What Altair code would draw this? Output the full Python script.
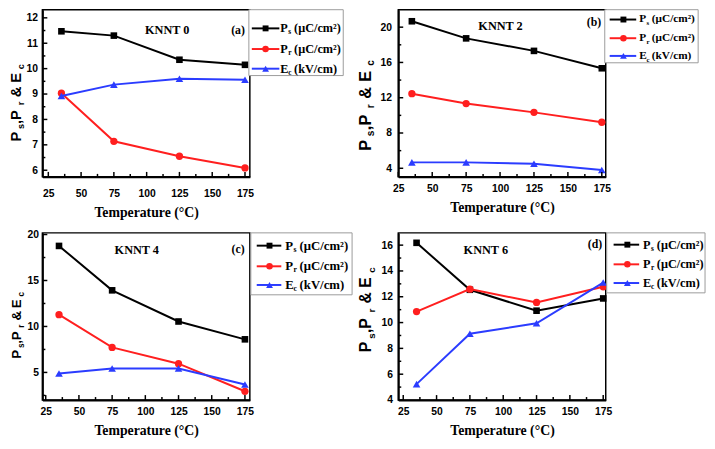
import altair as alt
import pandas as pd

# ---------------- data ----------------
temps = [35, 75, 125, 175]
series = ["Ps", "Pr", "Ec"]

a_ps = [11.47, 11.30, 10.35, 10.15]
a_pr = [9.03, 7.14, 6.55, 6.09]
a_ec = [8.92, 9.37, 9.60, 9.56]

b_ps = [20.67, 18.73, 17.31, 15.34]
b_pr = [12.46, 11.34, 10.34, 9.22]
b_ec = [4.67, 4.67, 4.52, 3.81]

c_ps = [18.76, 13.93, 10.54, 8.60]
c_pr = [11.28, 7.72, 5.95, 2.95]
c_ec = [4.89, 5.42, 5.42, 3.69]

d_ps = [16.18, 12.54, 10.92, 11.87]
d_pr = [10.85, 12.59, 11.56, 12.77]
d_ec = [5.23, 9.13, 9.95, 13.10]

panel_names = ["KNNT 0", "KNNT 2", "KNNT 4", "KNNT 6"]
panel_tags = ["(a)", "(b)", "(c)", "(d)"]
x_major = [25, 50, 75, 100, 125, 150, 175]
y_major_a = [6, 7, 8, 9, 10, 11, 12]
y_major_b = [4, 8, 12, 16, 20]
y_major_c = [5, 10, 15, 20]
y_major_d = [4, 6, 8, 10, 12, 14, 16]
legend_units = ["(\u03bcC/cm\u00b2)", "(\u03bcC/cm\u00b2)", "(kV/cm)"]
legend_main = ["P", "P", "E"]
legend_sub = ["s", "r", "c"]

COLORS = {"Ps": "#000000", "Pr": "#ff1f1f", "Ec": "#2b3cff"}
SHAPES = {"Ps": "square", "Pr": "circle", "Ec": "triangle-up"}
SIZES = {"Ps": 45, "Pr": 55, "Ec": 60}

W, H = 211, 170
SERIF = "Liberation Serif"
SANS = "Liberation Sans"

dummy = pd.DataFrame({"d": [0]})

panels = [
    dict(vals=[a_ps, a_pr, a_ec], xdom=[20.5, 178.7], ydom=[5.74, 12.32], ymaj=y_major_a, ystep=0.5,
         title=(127, 21), tag=(199, 21), box=(210, 0, 306, 67), rows=[19, 40, 60],
         line=(213, 241, 227), px=242, lfs=12.5, ytitle=(-22, 134, 79, 15), xlp=12, ylp=5),
    dict(vals=[b_ps, b_pr, b_ec], xdom=[25, 177.9], ydom=[3.03, 21.98], ymaj=y_major_b, ystep=2,
         title=(104, 17), tag=(199, 13), box=(210, 0, 305, 54), rows=[10, 29, 47],
         line=(215, 242, 229), px=245, lfs=11.5, ytitle=(-28, 143.5, 93, 16.5), xlp=7, ylp=7),
    dict(vals=[c_ps, c_pr, c_ec], xdom=[22.5, 178.7], ydom=[2.0, 20.18], ymaj=y_major_c, ystep=2.5,
         title=(96, 17), tag=(199, 16), box=(212, 0, 315, 63), rows=[13, 34, 53],
         line=(218, 243, 231), px=247, lfs=13, ytitle=(-22, 128, 68, 13.5), xlp=7, ylp=4),
    dict(vals=[d_ps, d_pr, d_ec], xdom=[21.3, 176.9], ydom=[4.0, 16.95], ymaj=y_major_d, ystep=1,
         title=(89, 17), tag=(200, 11), box=(212, 0, 312, 61), rows=[12, 32, 51],
         line=(219, 245, 233), px=249, lfs=12.5, ytitle=(-27.5, 121.5, 87, 16), xlp=7, ylp=6),
]


def txt(text, x, y, size, font, angle=None, align="center", baseline="middle", color="black"):
    kw = dict(text=text, font=font, fontSize=size, fontWeight="bold", align=align,
              baseline=baseline, color=color)
    if angle is not None:
        kw["angle"] = angle
    return alt.Chart(dummy).mark_text(**kw).encode(x=alt.value(x), y=alt.value(y))


def make_panel(i, p):
    xs = alt.Scale(domain=p["xdom"], nice=False, zero=False)
    ys = alt.Scale(domain=p["ydom"], nice=False, zero=False)
    xaxis = alt.Axis(values=x_major, format="d", title="Temperature (\u00b0C)",
                     labelPadding=p["xlp"], titlePadding=7)
    yaxis = alt.Axis(values=p["ymaj"], format="d", title=None, labelPadding=p["ylp"])
    X = lambda f: alt.X(f, scale=xs, axis=xaxis)
    Y = lambda f: alt.Y(f, scale=ys, axis=yaxis)

    layers = []
    lo, hi = p["xdom"]
    xmaj = [v for v in x_major if lo <= v <= hi]
    xmin = [12.5 + 25 * k for k in range(8) if lo <= 12.5 + 25 * k <= hi]
    ylo, yhi = p["ydom"]
    ymaj = [v for v in p["ymaj"] if ylo <= v <= yhi]
    ymin = []
    k = 0
    while k * p["ystep"] <= yhi:
        v = round(k * p["ystep"], 4)
        if v >= ylo and all(abs(v - m) > 1e-6 for m in p["ymaj"]):
            ymin.append(v)
        k += 1

    # data series
    for s, vals in zip(series, p["vals"]):
        df = pd.DataFrame({"T": temps, "v": vals})
        layers.append(alt.Chart(df).mark_line(color=COLORS[s], strokeWidth=2).encode(
            x=X("T:Q"), y=Y("v:Q")))
        layers.append(alt.Chart(df).mark_point(shape=SHAPES[s], filled=True, size=SIZES[s],
                                               color=COLORS[s], opacity=1).encode(
            x=X("T:Q"), y=Y("v:Q")))

    # manual inward ticks
    layers.append(alt.Chart(pd.DataFrame({"t": xmaj})).mark_rule(color="black", strokeWidth=1.5).encode(
        x=X("t:Q"), y=alt.value(H), y2=alt.value(H - 5)))
    if xmin:
        layers.append(alt.Chart(pd.DataFrame({"t": xmin})).mark_rule(color="black", strokeWidth=1.5).encode(
            x=X("t:Q"), y=alt.value(H), y2=alt.value(H - 3)))
    layers.append(alt.Chart(pd.DataFrame({"t": ymaj})).mark_rule(color="black", strokeWidth=1.5).encode(
        y=Y("t:Q"), x=alt.value(0), x2=alt.value(5)))
    if ymin:
        layers.append(alt.Chart(pd.DataFrame({"t": ymin})).mark_rule(color="black", strokeWidth=1.5).encode(
            y=Y("t:Q"), x=alt.value(0), x2=alt.value(3)))

    # panel title / tag
    layers.append(txt(panel_names[i], p["title"][0], p["title"][1], 12.5, SERIF))
    layers.append(txt(panel_tags[i], p["tag"][0], p["tag"][1], 12, SERIF))

    # y title pieces (rotated)
    bx, by, L, fs = p["ytitle"]
    pieces = [("P", 0.0, False), ("s", 0.160, True), (",", 0.225, False), ("P", 0.277, False),
              ("r", 0.465, True), ("&", 0.570, False), ("E", 0.755, False), ("c", 0.930, True)]
    for t, f, sub in pieces:
        layers.append(txt(t, bx + (3.5 if sub else 0), by - f * L, fs * (0.62 if sub else 1), SANS,
                          angle=270, align="left", baseline="alphabetic"))

    # legend
    x0, y0, x1, y1 = p["box"]
    layers.append(alt.Chart(dummy).mark_rect(fill="white", stroke="#9a9a9a", strokeWidth=1).encode(
        x=alt.value(x0), x2=alt.value(x1), y=alt.value(y0), y2=alt.value(y1)))
    lx0, lx1, mx = p["line"]
    for j, s in enumerate(series):
        ry = p["rows"][j]
        layers.append(alt.Chart(dummy).mark_rule(color=COLORS[s], strokeWidth=2).encode(
            x=alt.value(lx0), x2=alt.value(lx1), y=alt.value(ry)))
        layers.append(alt.Chart(dummy).mark_point(shape=SHAPES[s], filled=True, size=SIZES[s] * 0.8,
                                                  color=COLORS[s], opacity=1).encode(
            x=alt.value(mx), y=alt.value(ry)))
        lfs = p["lfs"]
        px = p["px"]
        layers.append(txt(legend_main[j], px, ry, lfs, SERIF, align="left"))
        layers.append(txt(legend_sub[j], px + 0.64 * lfs, ry + 4, lfs * 0.6, SERIF, align="left"))
        layers.append(txt(legend_units[j], px + 1.12 * lfs, ry, lfs, SERIF, align="left"))

    return alt.layer(*layers).properties(width=W, height=H)


charts = [make_panel(i, p) for i, p in enumerate(panels)]

chart = alt.concat(*charts, columns=2, spacing={"row": 57, "column": 151}, bounds="flush").properties(
    padding={"left": 0, "top": -4, "right": 0, "bottom": 0}, background="white"
).configure_view(stroke="black", strokeWidth=1.5).configure_axis(
    domainColor="black", domainWidth=2, grid=False, ticks=False, tickSize=0,
    labelFont=SANS, labelFontWeight="bold", labelColor="black", labelFontSize=10.5,
    titleFont=SERIF, titleFontWeight="bold", titleFontSize=14, titleColor="black",
    labelFlush=False, labelOverlap=False
)

chart.save("out.html", embed_options={"renderer": "svg", "actions": False})
